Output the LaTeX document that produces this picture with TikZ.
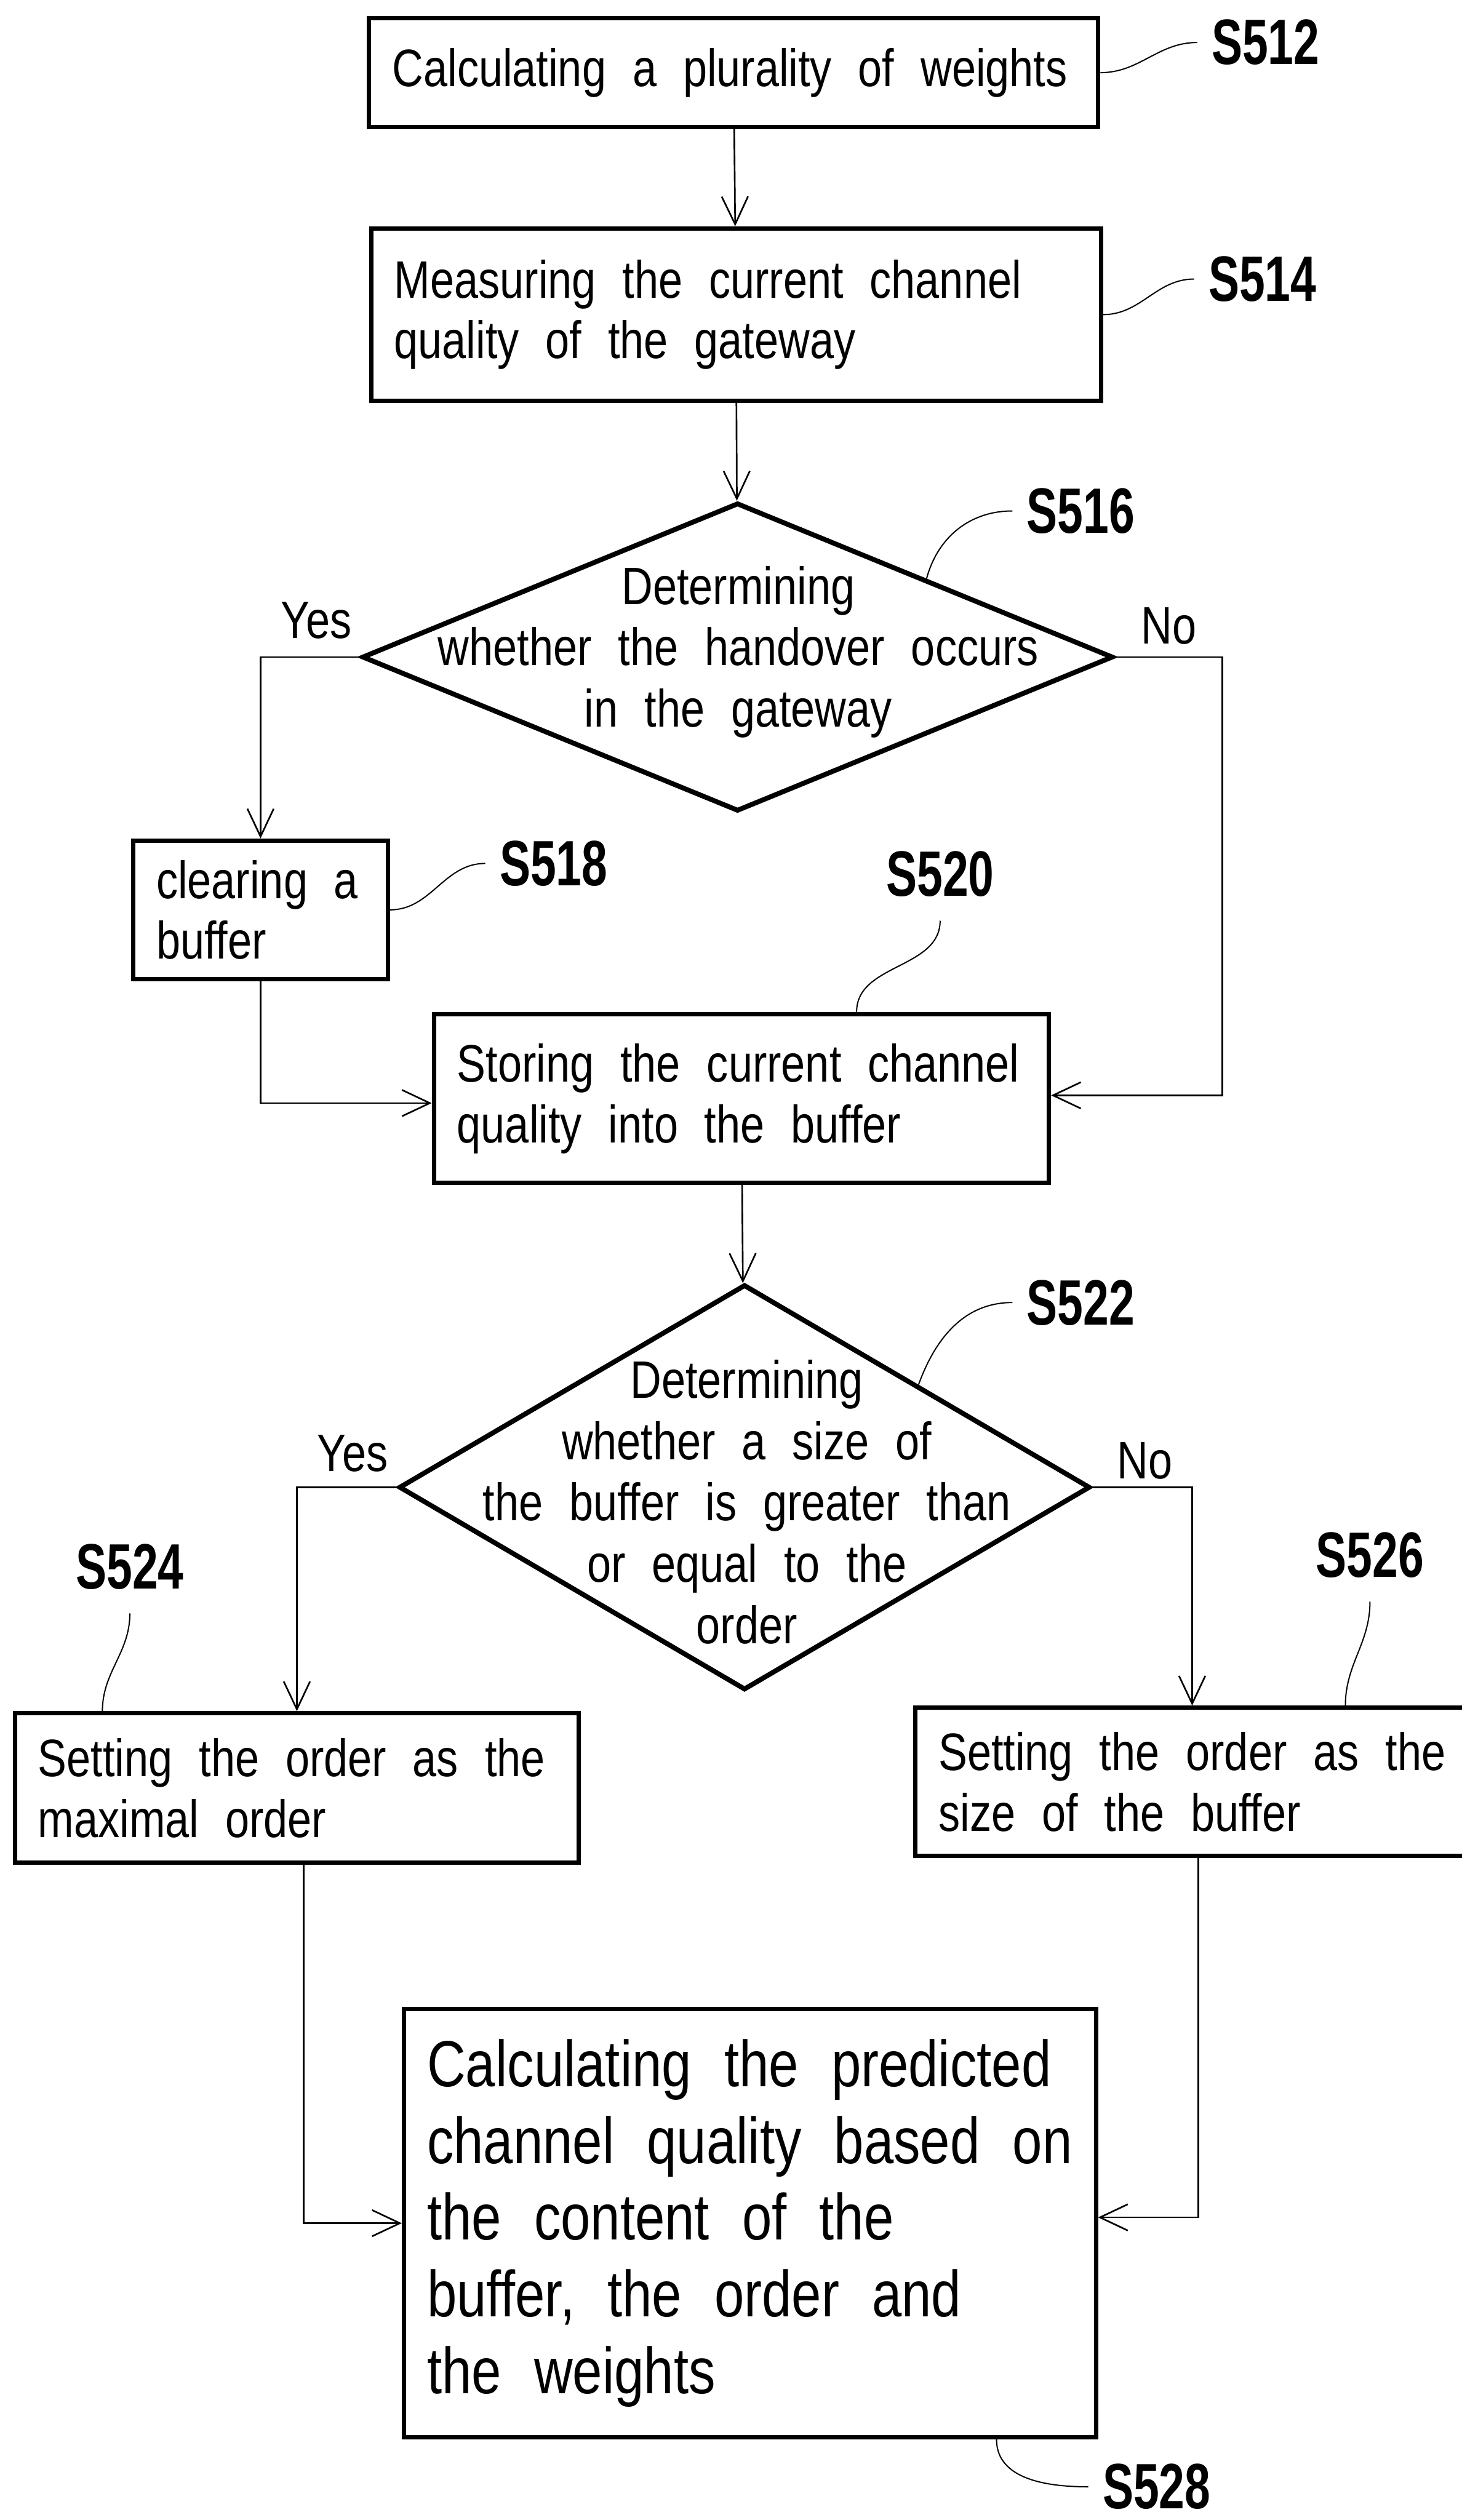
\documentclass[tikz,border=0pt]{standalone}
\usepackage{fontspec}
\setmainfont{Liberation Sans}[FakeStretch=0.82,WordSpace=2.2]
\newfontfamily\tagfont{Liberation Sans}[FakeStretch=0.72]
\usepackage{tikz}
\usetikzlibrary{shapes.geometric}
\usetikzlibrary{arrows.meta}
\usetikzlibrary{graphs}
\usetikzlibrary{calc}

\begin{document}
\begin{tikzpicture}[box/.style={draw, line width=1.6pt, align=flush left, inner xsep=0.3cm, inner ysep=0pt, font=\fontsize{19.4}{22.4}\selectfont},
	decision/.style={draw, diamond, line width=1.8pt, inner sep=0pt},
	ask/.style={align=center, font=\fontsize{19.4}{22.6}\selectfont},
	answer/.style={inner sep=0pt, font=\fontsize{19.4}{22.4}\selectfont},
	tag/.style={inner xsep=0.18cm, inner ysep=0.3cm, font=\tagfont\bfseries\fontsize{23.6}{26}\selectfont},
	flow/.style={->, line width=0.6pt},
	lead/.style={line width=0.45pt},
	>={Straight Barb[length=3.6mm,width=3.4mm]}]
								\useasboundingbox (0,0) rectangle (18.91,-32.6);
								
								%Boksene går her
								\node[box, text width=8.83cm, minimum height=1.405cm] (s512) at (9.49,-0.94) {Calculating a plurality of weights};
								\node[box, text width=8.84cm, minimum height=2.23cm] (s514) at (9.52,-4.07) {Measuring the current channel\\quality of the gateway};
								\node[decision, minimum width=9.715cm, minimum height=3.99cm] (d516) at (9.54,-8.5) {};
								\node[ask] (q516) at (9.55,-8.435) {Determining\\whether the handover occurs\\in the gateway};
								\node[box, text width=2.695cm, minimum height=1.79cm] (s518) at (3.37,-11.77) {clearing a\\buffer};
								\node[box, text width=7.355cm, minimum height=2.185cm] (s520) at (9.59,-14.21) {Storing the current channel\\quality into the buffer};
								\node[decision, minimum width=8.94cm, minimum height=5.245cm] (d522) at (9.63,-19.24) {};
								\node[ask] (q522) at (9.66,-19.43) {Determining\\whether a size of\\the buffer is greater than\\or equal to the\\order};
								\node[box, text width=6.695cm, minimum height=1.93cm] (s524) at (3.84,-23.13) {Setting the order as the\\maximal order};
								\node[box, text width=6.56cm, minimum height=1.915cm] (s526) at (15.42,-23.05) {Setting the order as the\\size of the buffer};
								\node[box, text width=8.35cm, minimum height=5.54cm, font=\fontsize{24}{28.2}\selectfont] (s528) at (9.70,-28.76) {Calculating the predicted\\channel quality based on\\the content of the\\buffer, the order and\\the weights};
								
								%Ja og nei
								\node[answer] (yes516) at (4.09,-8.03) {Yes};
								\node[answer] (no516) at (15.12,-8.10) {No};
								\node[answer] (yes522) at (4.56,-18.80) {Yes};
								\node[answer] (no522) at (14.81,-18.90) {No};
								
								%Stegnumrene
								\node[tag] (l512) at (16.37,-0.55) {S512};
								\node[tag] (l514) at (16.33,-3.61) {S514};
								\node[tag] (l516) at (13.98,-6.61) {S516};
								\node[tag] (l518) at (7.16,-11.17) {S518};
								\node[tag] (l520) at (12.16,-11.31) {S520};
								\node[tag] (l522) at (13.98,-16.85) {S522};
								\node[tag] (l524) at (1.68,-20.27) {S524};
								\node[tag] (l526) at (17.72,-20.12) {S526};
								\node[tag] (l528) at (14.96,-32.17) {S528};
								
								%Pilene defineres her
								\graph {
									(s512) ->[flow] (s514) ->[flow] (d516);
									(s520) ->[flow] (d522);
									};
								\draw[flow] (d516.west) -| (s518.north);
								\draw[flow] (d516.east) -- ++(1.38,0) |- ([yshift=0.04cm]s520.east);
								\draw[flow] (s518.south) |- ([yshift=-0.06cm]s520.west);
								\draw[flow] (d522.west) -| (s524.north);
								\draw[flow] (d522.east) -| (s526.north);
								\draw[flow] ([xshift=0.09cm]s524.south) |- (s528.west);
								\draw[flow] ([xshift=0.08cm]s526.south) |- ([yshift=0.075cm]s528.east);
								
								%Strekene til stegnumrene
								\draw[lead] (s512.east) to[out=0,in=180] (l512.west);
								\draw[lead] (s514.east) to[out=0,in=180] (l514.west);
								\draw[lead] ($(d516.north)!0.5!(d516.east)$) to[out=75,in=180] (l516.west);
								\draw[lead] (s518.east) to[out=0,in=180] (l518.west);
								\draw[lead] (l520.south) to[out=-90,in=90] ([xshift=1.49cm]s520.north);
								\draw[lead] ($(d522.north)!0.5!(d522.east)$) to[out=70,in=180] (l522.west);
								\draw[lead] (l524.south) to[out=-90,in=90] ([xshift=1.16cm]s524.north west);
								\draw[lead] (l526.south) to[out=-90,in=90] ([xshift=5.59cm]s526.north west);
								\draw[lead] ([xshift=3.19cm]s528.south) to[out=-90,in=180] (l528.west);
								
							\end{tikzpicture}
\end{document}
